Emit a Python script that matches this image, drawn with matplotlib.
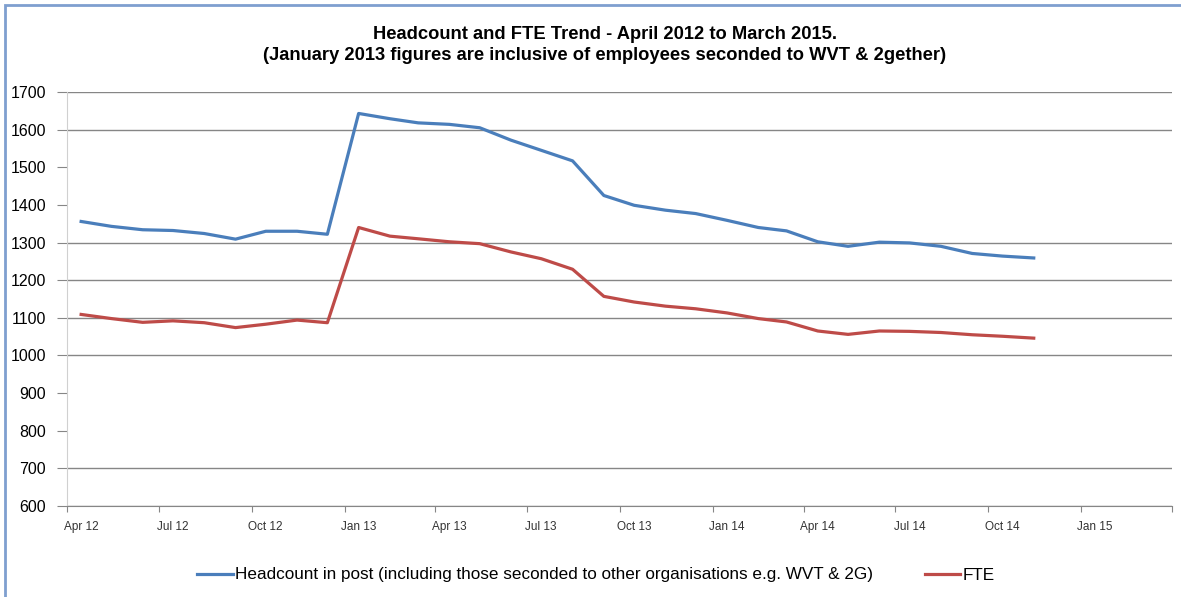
import matplotlib.pyplot as plt
import matplotlib.transforms as mtransforms
from matplotlib.patches import Rectangle
import pandas as pd

# Datos mensuales (abr 2012 - nov 2014)
months = pd.date_range("2012-04-01", "2014-11-01", freq="MS") + pd.Timedelta(days=14)
headcount = [1356, 1343, 1334, 1332, 1324, 1309, 1330, 1330, 1322,
             1643, 1629, 1618, 1614, 1605, 1572, 1545, 1517, 1425, 1399, 1386, 1377,
             1359, 1340, 1331, 1302, 1290, 1301, 1299, 1290, 1271, 1264, 1259]
fte = [1109, 1098, 1088, 1092, 1087, 1074, 1083, 1094, 1087,
       1340, 1317, 1310, 1302, 1297, 1275, 1257, 1229, 1157, 1142, 1131, 1124,
       1113, 1098, 1089, 1065, 1056, 1065, 1064, 1061, 1055, 1051, 1046]
tick_dates = pd.date_range("2012-04-01", "2015-04-01", freq="QS-JAN")
grid_values = [600, 700, 1000, 1100, 1200, 1300, 1600, 1700]  # las visibles en la imagen

title = ("Headcount and FTE Trend - April 2012 to March 2015.\n"
         "(January 2013 figures are inclusive of employees seconded to WVT & 2gether)")
label_hc = "Headcount in post (including those seconded to other organisations e.g. WVT & 2G)"
label_fte = "FTE"

plt.rcParams["font.family"] = ["Liberation Sans", "DejaVu Sans"]

W, H = 1181, 597
fig = plt.figure(figsize=(W / 100, H / 100), dpi=100)
ax = fig.add_axes([67 / W, 1 - 506 / H, (1172 - 67) / W, (506 - 92) / H])

# Marco azul de la figura
fig.patches.append(Rectangle((5 / W, -0.05), 1.2, 1 - 5 / H + 0.05, transform=fig.transFigure,
                             fill=False, edgecolor="#7f9fcf", linewidth=2))

for g in grid_values:
    ax.axhline(g, color="#868686", linewidth=1, zorder=1)

ax.plot(months, headcount, color="#4a7ebb", linewidth=2.3, label=label_hc, zorder=3)
ax.plot(months, fte, color="#be4b48", linewidth=2.3, label=label_fte, zorder=3)

ax.set_xlim(pd.Timestamp("2012-04-01"), pd.Timestamp("2015-04-01"))
ax.set_ylim(600, 1700)
ax.set_yticks(range(600, 1701, 100))
ax.tick_params(axis="y", length=7, color="#868686", pad=8, labelsize=11.5)

ax.set_xticks(tick_dates)
labels = [d.strftime("%b %y") for d in tick_dates]
labels[-1] = ""
ax.set_xticklabels(labels)
ax.tick_params(axis="x", length=4, color="#868686", pad=7, labelsize=8.5, labelcolor="#333333")
offset = mtransforms.ScaledTranslation(14 / 100, 0, fig.dpi_scale_trans)
for lbl in ax.get_xticklabels():
    lbl.set_transform(lbl.get_transform() + offset)

for side in ["top", "right"]:
    ax.spines[side].set_visible(False)
ax.spines["left"].set_color("#d0d0d0")
ax.spines["bottom"].set_color("#868686")

fig.text(605 / W, 1 - 45 / H, title, ha="center", va="center", fontsize=13.2,
         fontweight="bold", linespacing=1.3)

fig.legend(loc="center", bbox_to_anchor=(596 / W, 1 - 575 / H), ncol=2, frameon=False,
           fontsize=12.3, handlelength=2.1, handletextpad=0.15, columnspacing=3.0)

fig.savefig("out.png", dpi=100)
